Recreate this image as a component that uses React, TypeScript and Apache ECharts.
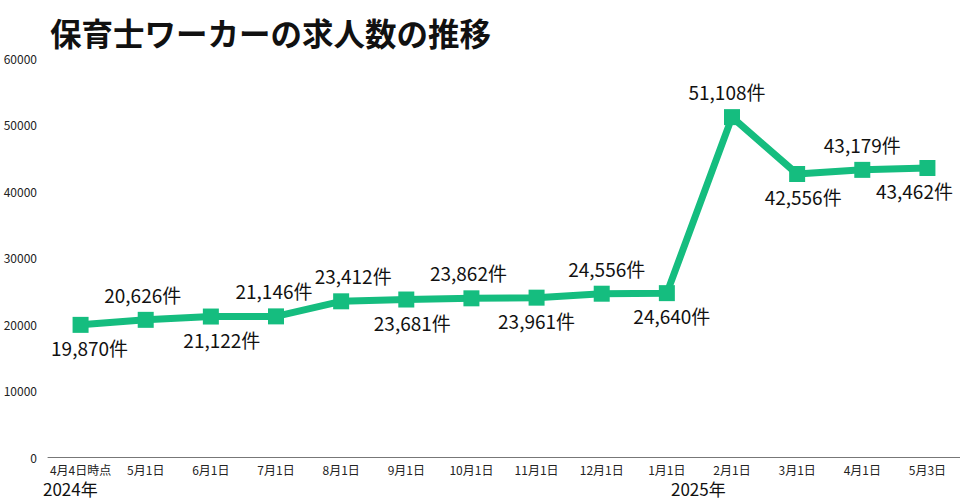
import React, { useEffect, useRef } from "react";
import * as echarts from "echarts";

const categories = ["4月4日時点", "5月1日", "6月1日", "7月1日", "8月1日", "9月1日", "10月1日", "11月1日", "12月1日", "1月1日", "2月1日", "3月1日", "4月1日", "5月3日"];
const values = [19870, 20626, 21122, 21146, 23412, 23681, 23862, 23961, 24556, 24640, 51108, 42556, 43179, 43462];
const labelPos = ["bottom", "top", "bottom", "top", "top", "bottom", "top", "bottom", "top", "bottom", "top", "bottom", "top", "bottom"];
const yearLabels = ["2024年", "2025年"];
const title = "保育士ワーカーの求人数の推移";

const FONT = "'Noto Sans CJK JP', 'Noto Sans', sans-serif";
// horizontal nudges for the value labels (style only)
const labelShiftX = [9, -3, 11, -2, 12, 6, -3, 0, 5, 5, -5, 6, 0, -13];

export default function App() {
  const ref = useRef<HTMLDivElement>(null);
  useEffect(() => {
    document.body.style.margin = "0";
    const chart = echarts.init(ref.current!, null, { renderer: "svg" });
    chart.setOption({
      animation: false,
      backgroundColor: "#ffffff",
      textStyle: { fontFamily: FONT },
      grid: { left: 48, right: 0, top: 58, bottom: 43, containLabel: false },
      graphic: [
        { type: "text", x: 50, y: 32, style: { text: title, font: `bold 31.5px ${FONT}`, fill: "#111", verticalAlign: "middle" } },
        { type: "text", x: 43, y: 488.5, style: { text: yearLabels[0], font: `17px ${FONT}`, lineHeight: 17, fill: "#111", verticalAlign: "middle" } },
        { type: "text", x: 671, y: 488.5, style: { text: yearLabels[1], font: `17px ${FONT}`, lineHeight: 17, fill: "#111", verticalAlign: "middle" } },
      ],
      xAxis: {
        type: "category",
        data: categories,
        boundaryGap: true,
        axisLine: { show: true, lineStyle: { color: "#777", width: 1 } },
        axisTick: { show: false },
        axisLabel: { fontSize: 12, color: "#222", margin: 6, interval: 0, fontFamily: FONT, lineHeight: 12 },
      },
      yAxis: {
        type: "value",
        min: 0,
        max: 60000,
        interval: 10000,
        splitLine: { show: false },
        axisLine: { show: false },
        axisTick: { show: false },
        axisLabel: { fontSize: 12, color: "#222", margin: 11, fontFamily: FONT, formatter: (v: number) => String(v) },
      },
      series: [
        {
          type: "line",
          data: values.map((v, i) => ({
            value: v,
            label: {
              position: labelPos[i],
              distance: labelPos[i] === "bottom" ? 5 : 8,
              offset: [labelShiftX[i], 0],
            },
          })),
          symbol: "rect",
          symbolSize: 16,
          lineStyle: { color: "#15bd7f", width: 7 },
          itemStyle: { color: "#15bd7f" },
          label: {
            show: true,
            fontSize: 19,
            color: "#111",
            fontFamily: FONT,
            formatter: (p: any) => p.value.toLocaleString("en-US") + "件",
          },
        },
      ],
    });
    return () => chart.dispose();
  }, []);
  return <div ref={ref} style={{ width: 960, height: 500 }} />;
}
